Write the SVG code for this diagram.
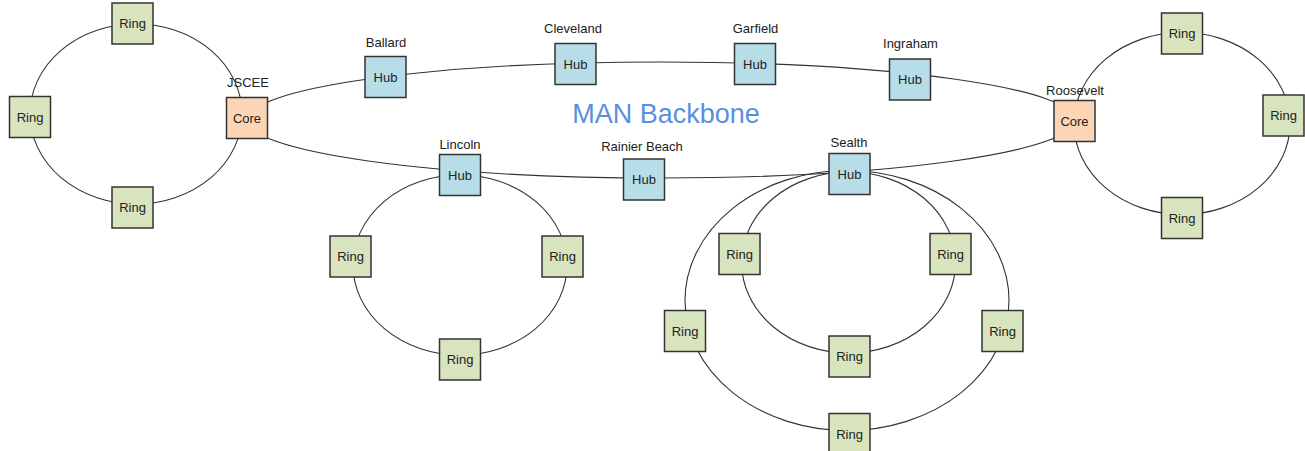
<svg xmlns="http://www.w3.org/2000/svg" width="1305" height="451" viewBox="0 0 1305 451">
<style>
.bg{fill:#ffffff}
.link{fill:none;stroke:#333333;stroke-width:1.1}
.box{stroke:#333333;stroke-width:1.5}
.ring{fill:#d7e4bd}
.hub{fill:#b7dde8}
.core{fill:#fbd5b5}
.t{font-family:"Liberation Sans",Arial,sans-serif;font-size:13px;fill:#222222;text-anchor:middle}
.title{font-family:"Liberation Sans",Arial,sans-serif;font-size:27px;fill:#5a8fe0;text-anchor:middle}
</style>
<rect class="bg" x="0" y="0" width="1305" height="451"/>
<g id="connectors">
<ellipse class="link" cx="661" cy="120" rx="414" ry="58"/>
<ellipse class="link" cx="136" cy="114" rx="106" ry="90"/>
<ellipse class="link" cx="1182" cy="123.5" rx="108" ry="91"/>
<ellipse class="link" cx="460" cy="265" rx="107" ry="90"/>
<ellipse class="link" cx="848.6" cy="262.5" rx="107" ry="90.5"/>
<ellipse class="link" cx="847" cy="300.5" rx="162" ry="130"/>
</g>
<text class="title" x="666" y="122.5">MAN Backbone</text>
<g id="ringL1"><rect class="box ring" x="112" y="3" width="41" height="41"/><text class="t" x="132.5" y="28">Ring</text></g>
<g id="ringL2"><rect class="box ring" x="9.5" y="96.5" width="41" height="41"/><text class="t" x="30" y="121.5">Ring</text></g>
<g id="ringL3"><rect class="box ring" x="112" y="187" width="41" height="41"/><text class="t" x="132.5" y="212">Ring</text></g>
<g id="jscee"><text class="t" x="248" y="86.5">JSCEE</text><rect class="box core" x="226.5" y="97.5" width="41" height="41"/><text class="t" x="247" y="122.5">Core</text></g>
<g id="ballard"><text class="t" x="386" y="46.5">Ballard</text><rect class="box hub" x="365" y="56.5" width="41" height="41"/><text class="t" x="385.5" y="81.5">Hub</text></g>
<g id="cleveland"><text class="t" x="573" y="33">Cleveland</text><rect class="box hub" x="555" y="43.5" width="41" height="41"/><text class="t" x="575.5" y="68.5">Hub</text></g>
<g id="garfield"><text class="t" x="755.5" y="33">Garfield</text><rect class="box hub" x="734.5" y="43.5" width="41" height="41"/><text class="t" x="755" y="68.5">Hub</text></g>
<g id="ingraham"><text class="t" x="910.5" y="47.5">Ingraham</text><rect class="box hub" x="889.5" y="59" width="41" height="41"/><text class="t" x="910" y="84">Hub</text></g>
<g id="roosevelt"><text class="t" x="1075" y="95">Roosevelt</text><rect class="box core" x="1054" y="100.5" width="41" height="41"/><text class="t" x="1074.5" y="125.5">Core</text></g>
<g id="ringR1"><rect class="box ring" x="1161.5" y="13" width="41" height="41"/><text class="t" x="1182" y="38">Ring</text></g>
<g id="ringR2"><rect class="box ring" x="1263" y="95" width="41" height="41"/><text class="t" x="1283.5" y="120">Ring</text></g>
<g id="ringR3"><rect class="box ring" x="1161.5" y="197.5" width="41" height="41"/><text class="t" x="1182" y="222.5">Ring</text></g>
<g id="lincoln"><text class="t" x="460" y="149">Lincoln</text><rect class="box hub" x="439.5" y="154.5" width="41" height="41"/><text class="t" x="460" y="179.5">Hub</text></g>
<g id="ringLi1"><rect class="box ring" x="330" y="236" width="41" height="41"/><text class="t" x="350.5" y="261">Ring</text></g>
<g id="ringLi2"><rect class="box ring" x="542" y="236" width="41" height="41"/><text class="t" x="562.5" y="261">Ring</text></g>
<g id="ringLi3"><rect class="box ring" x="439.5" y="339" width="41" height="41"/><text class="t" x="460" y="364">Ring</text></g>
<g id="rainier"><text class="t" x="642" y="150.5">Rainier Beach</text><rect class="box hub" x="623.5" y="159" width="41" height="41"/><text class="t" x="644" y="184">Hub</text></g>
<g id="sealth"><text class="t" x="849" y="146.5">Sealth</text><rect class="box hub" x="829" y="153.5" width="41" height="41"/><text class="t" x="849.5" y="178.5">Hub</text></g>
<g id="ringS1"><rect class="box ring" x="719" y="233.5" width="41" height="41"/><text class="t" x="739.5" y="258.5">Ring</text></g>
<g id="ringS2"><rect class="box ring" x="930" y="233.5" width="41" height="41"/><text class="t" x="950.5" y="258.5">Ring</text></g>
<g id="ringS3"><rect class="box ring" x="829" y="336" width="41" height="41"/><text class="t" x="849.5" y="361">Ring</text></g>
<g id="ringS4"><rect class="box ring" x="664.5" y="310.5" width="41" height="41"/><text class="t" x="685" y="335.5">Ring</text></g>
<g id="ringS5"><rect class="box ring" x="982" y="310.5" width="41" height="41"/><text class="t" x="1002.5" y="335.5">Ring</text></g>
<g id="ringS6"><rect class="box ring" x="829" y="413.5" width="41" height="41"/><text class="t" x="849.5" y="438.5">Ring</text></g>
</svg>
